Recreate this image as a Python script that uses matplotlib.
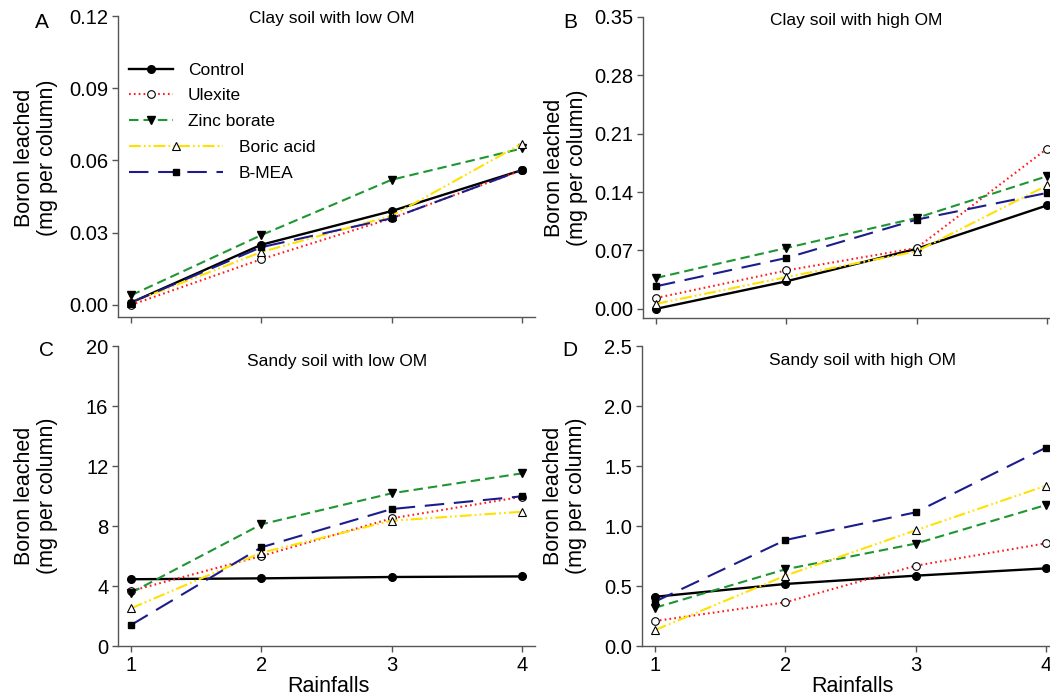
import matplotlib
matplotlib.use("Agg")
import matplotlib.pyplot as plt

plt.rcParams['font.family'] = ['Liberation Sans', 'DejaVu Sans']
plt.rcParams['lines.scale_dashes'] = False

rainfalls = [1, 2, 3, 4]
series_names = ["Control", "Ulexite", "Zinc borate", "Boric acid", "B-MEA"]

# Panel A: Clay soil with low OM
clay_low = {
    "Control":     [0.001, 0.025, 0.039, 0.056],
    "Ulexite":     [0.000, 0.019, 0.036, 0.056],
    "Zinc borate": [0.004, 0.029, 0.052, 0.065],
    "Boric acid":  [0.001, 0.022, 0.037, 0.067],
    "B-MEA":       [0.001, 0.024, 0.036, 0.056],
}
# Panel B: Clay soil with high OM
clay_high = {
    "Control":     [0.000, 0.033, 0.072, 0.124],
    "Ulexite":     [0.013, 0.046, 0.073, 0.192],
    "Zinc borate": [0.037, 0.073, 0.109, 0.159],
    "Boric acid":  [0.006, 0.038, 0.069, 0.148],
    "B-MEA":       [0.027, 0.061, 0.107, 0.139],
}
# Panel C: Sandy soil with low OM
sandy_low = {
    "Control":     [4.45, 4.51, 4.60, 4.64],
    "Ulexite":     [3.67, 6.00, 8.51, 9.95],
    "Zinc borate": [3.55, 8.11, 10.18, 11.51],
    "Boric acid":  [2.51, 6.22, 8.35, 8.95],
    "B-MEA":       [1.40, 6.58, 9.13, 9.98],
}
# Panel D: Sandy soil with high OM
sandy_high = {
    "Control":     [0.41, 0.517, 0.586, 0.647],
    "Ulexite":     [0.208, 0.364, 0.669, 0.856],
    "Zinc borate": [0.319, 0.639, 0.853, 1.175],
    "Boric acid":  [0.133, 0.586, 0.964, 1.336],
    "B-MEA":       [0.37, 0.883, 1.114, 1.653],
}

panel_titles = ["Clay soil with low OM", "Clay soil with high OM",
                "Sandy soil with low OM", "Sandy soil with high OM"]
panel_letters = ["A", "B", "C", "D"]
ylims = [(-0.005, 0.12), (-0.011, 0.35), (0, 20), (0, 2.5)]
yticks = [[0.00, 0.03, 0.06, 0.09, 0.12],
          [0.00, 0.07, 0.14, 0.21, 0.28, 0.35],
          [0, 4, 8, 12, 16, 20],
          [0.0, 0.5, 1.0, 1.5, 2.0, 2.5]]
yfmt = ["{:.2f}", "{:.2f}", "{:.0f}", "{:.1f}"]

styles = {
    "Control":     dict(color="black", lw=1.7, ls="-", marker="o", mfc="black", mec="black", ms=5.5),
    "Ulexite":     dict(color="#ff1a1a", lw=1.5, dashes=(1.2, 2.3), marker="o", mfc="white", mec="black", ms=5.5, mew=0.8),
    "Zinc borate": dict(color="#1e9632", lw=1.5, dashes=(6.8, 3.6), marker="v", mfc="black", mec="black", ms=5.5),
    "Boric acid":  dict(color="#ffe100", lw=1.5, dashes=(8.5, 2.2, 1.3, 2.2, 1.3, 2.2), marker="^", mfc="white", mec="black", ms=5.5, mew=0.8),
    "B-MEA":       dict(color="#1c1c8c", lw=1.5, dashes=(14, 7), marker="s", mfc="black", mec="black", ms=5),
}

fig = plt.figure(figsize=(10.5, 6.98), dpi=100)
W, H = 1050, 698

def ax_rect(left, top, right, bottom):
    return [left / W, 1 - bottom / H, (right - left) / W, (bottom - top) / H]

rects = [ax_rect(118, 16, 535, 317), ax_rect(643, 17, 1060, 318),
         ax_rect(118, 346, 535, 646), ax_rect(642, 346, 1059, 646)]
datasets = [clay_low, clay_high, sandy_low, sandy_high]
title_pos = [(0.513, 0.993), (0.511, 0.99), (0.525, 0.947), (0.528, 0.95)]
letter_pos = [(42, 23), (570, 23), (47, 350), (570, 350)]

spine_col = "#555555"
axes = []
for i, (rect, data) in enumerate(zip(rects, datasets)):
    ax = fig.add_axes(rect)
    axes.append(ax)
    for name in series_names:
        ax.plot(rainfalls, data[name], label=name, zorder=3, clip_on=False, **styles[name])
    ax.set_xlim(0.9, 4.1)
    ax.set_ylim(*ylims[i])
    ax.set_yticks(yticks[i])
    ax.set_yticklabels([yfmt[i].format(v) for v in yticks[i]])
    ax.set_xticks(rainfalls)
    for s in ["top", "right"]:
        ax.spines[s].set_visible(False)
    for s in ["left", "bottom"]:
        ax.spines[s].set_color(spine_col)
        ax.spines[s].set_linewidth(1.0)
    ax.tick_params(direction="out", length=4, width=1.0, color=spine_col,
                   labelsize=14.5, pad=3)
    if i < 2:
        ax.set_xticklabels([])
    else:
        ax.set_xticklabels([str(r) for r in rainfalls])
        ax.set_xlabel("Rainfalls", fontsize=15.5)
    ax.set_ylabel("Boron leached\n(mg per column)", fontsize=15.5, linespacing=1.15)
    ax.text(title_pos[i][0], title_pos[i][1], panel_titles[i], transform=ax.transAxes,
            ha="center", va="center", fontsize=12.5)
    fig.text(letter_pos[i][0] / W, 1 - letter_pos[i][1] / H, panel_letters[i],
             ha="center", va="center", fontsize=15)

axes[0].yaxis.set_label_coords(-0.143, 0.53)
axes[1].yaxis.set_label_coords(-0.132, 0.5)
axes[2].yaxis.set_label_coords(-0.143, 0.5)
axes[3].yaxis.set_label_coords(-0.132, 0.5)
axes[2].xaxis.set_label_coords(0.504, -0.1)
axes[3].xaxis.set_label_coords(0.504, -0.1)

# Legend in panel A (two groups with different handle lengths, as in the original)
handles, labels = axes[0].get_legend_handles_labels()
leg1 = axes[0].legend(handles[:3], labels[:3], loc="upper left",
                      bbox_to_anchor=(0.026, 0.845), frameon=False, fontsize=12.5,
                      handlelength=2.55, handletextpad=0.85, labelspacing=0.6,
                      borderpad=0, borderaxespad=0, numpoints=1)
axes[0].add_artist(leg1)
leg2 = axes[0].legend(handles[3:], labels[3:], loc="upper left",
                      bbox_to_anchor=(0.026, 0.588), frameon=False, fontsize=12.5,
                      handlelength=5.4, handletextpad=0.95, labelspacing=0.6,
                      borderpad=0, borderaxespad=0, numpoints=1)

fig.savefig("out.png", dpi=100)
